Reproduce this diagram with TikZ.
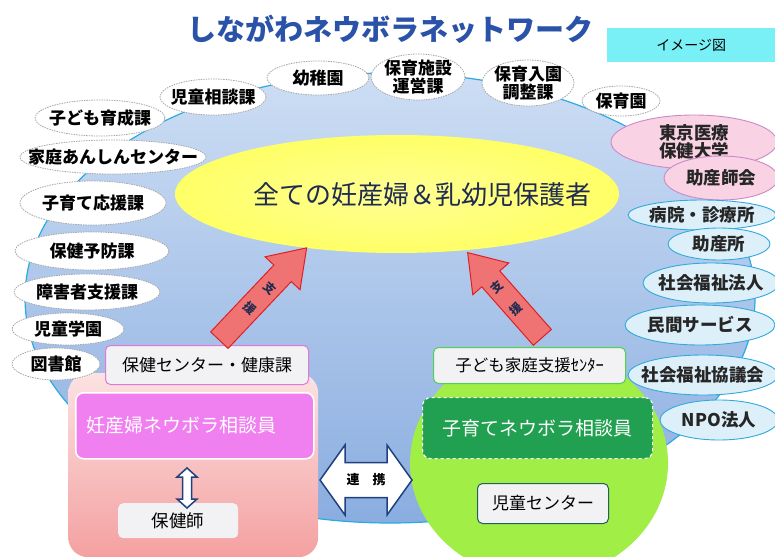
\documentclass[tikz,border=0pt]{standalone}
\usepackage{fontspec}
\setmainfont{Noto Sans CJK JP}
\usetikzlibrary{shapes.geometric}
\definecolor{bigfillA}{RGB}{205,222,244}
\definecolor{bigfillB}{RGB}{138,173,224}
\definecolor{bigline}{RGB}{41,171,226}
\definecolor{titleblue}{RGB}{42,82,168}
\definecolor{cyanbox}{RGB}{120,240,245}
\definecolor{yel}{RGB}{255,255,102}
\definecolor{navy}{RGB}{31,44,80}
\definecolor{rfill}{RGB}{221,240,250}
\definecolor{rline}{RGB}{49,169,221}
\definecolor{pfill}{RGB}{249,211,227}
\definecolor{pline}{RGB}{204,136,200}
\definecolor{pinkA}{RGB}{252,226,226}
\definecolor{pinkB}{RGB}{244,160,160}
\definecolor{magbox}{RGB}{240,128,240}
\definecolor{magline}{RGB}{225,120,215}
\definecolor{lgray}{RGB}{242,242,244}
\definecolor{lgreen}{RGB}{160,238,70}
\definecolor{dgreen}{RGB}{32,160,80}
\definecolor{gline}{RGB}{80,208,80}
\definecolor{teal}{RGB}{32,96,96}
\definecolor{redfill}{RGB}{240,115,115}
\definecolor{redline}{RGB}{224,32,32}
\definecolor{arrline}{RGB}{32,64,128}
\tikzset{
  wov/.style={ellipse, fill=white, draw=gray!70, dash pattern=on 1.5pt off 1pt, line width=0.8pt, inner sep=0pt},
  rov/.style={ellipse, fill=rfill, draw=rline, line width=0.9pt, inner sep=0pt},
  pov/.style={ellipse, fill=pfill, draw=pline, line width=0.9pt, inner sep=0pt},
  lbl/.style={font=\fontsize{17}{18}\selectfont\bfseries, text=black, align=center, inner sep=0pt},
  rlbl/.style={font=\fontsize{17.5}{18}\selectfont\bfseries, text=black!85, align=center, inner sep=0pt},
  graybox/.style={rectangle, rounded corners=5pt, fill=lgray, inner sep=0pt},
  redarrow/.style={fill=redfill, draw=redline, line width=1pt, line join=miter},
  whitearrow/.style={fill=white, draw=arrline, line width=1.5pt, line join=miter},
  arrtxt/.style={font=\fontsize{12}{12}\selectfont\bfseries, text=navy, inner sep=0pt},
}
\newcommand\ovl[7]{%
  \node[#1, minimum width=#5pt, minimum height=#6pt] (#2) at (#3,#4) {};
  \node[lbl] (#2-t) at (#2.center) {#7};}
\newcommand\rovl[7]{%
  \node[#1, minimum width=#5pt, minimum height=#6pt] (#2) at (#3,#4) {};
  \node[rlbl] (#2-t) at (#2.center) {#7};}
\begin{document}
\begin{tikzpicture}[x=1pt,y=-1pt]
\clip (0,0) rectangle (775,556);
\fill[white] (0,0) rectangle (775,556);
% big blue ellipse
\shade[top color=bigfillA, bottom color=bigfillB, draw=bigline, line width=1.2pt] (390,298) ellipse [x radius=365pt, y radius=225pt];
% title
\node[font=\fontsize{29}{30}\selectfont\bfseries, text=titleblue, inner sep=0pt] (title) at (390,29) {しながわネウボラネットワーク};
% image label
\node[rectangle, fill=cyanbox, minimum width=168pt, minimum height=34pt, anchor=north west, inner sep=0pt] (img) at (607,28) {};
\node[font=\fontsize{14}{15}\selectfont, inner sep=0pt] (img-t) at (img.center) {イメージ図};
% yellow ellipse
\shade[inner color=yel!70!white, outer color=yel] (397,194) ellipse [x radius=222pt, y radius=59pt];
\node[font=\fontsize{26}{27}\selectfont, text=navy, inner sep=0pt] (target) at (422,195) {全ての妊産婦＆乳幼児保護者};
% green circle
\fill[lgreen] (539,463) ellipse [x radius=129pt, y radius=116pt];
% pink box
\node[rectangle, rounded corners=20pt, top color=pinkA, bottom color=pinkB, minimum width=250pt, minimum height=184pt, anchor=north west, inner sep=0pt] (pinkbox) at (68,373) {};
% top ovals
\ovl{wov}{jidosodan}{213}{97}{106}{36}{児童相談課}
\ovl{wov}{yochien}{318}{78}{102}{34}{幼稚園}
\ovl{wov}{hoikushisetsu}{418}{77}{94}{46}{保育施設\\運営課}
\ovl{wov}{hoikunyuen}{528}{83}{92}{46}{保育入園\\調整課}
\ovl{wov}{hoikuen}{621}{101}{78}{30}{保育園}
% left ovals
\ovl{wov}{kodomoikusei}{100}{118}{130}{36}{子ども育成課}
\ovl{wov}{katei}{113}{157}{186}{34}{家庭あんしんセンター}
\ovl{wov}{kosodate}{93}{203}{146}{44}{子育て応援課}
\ovl{wov}{hokenyobo}{92}{251}{154}{38}{保健予防課}
\ovl{wov}{shogai}{87}{292}{146}{36}{障害者支援課}
\ovl{wov}{jidogakuen}{68}{329}{112}{32}{児童学園}
\ovl{wov}{toshokan}{56}{364}{88}{32}{図書館}
% right ovals
\rovl{pov}{tokyoiryo}{694}{142}{166}{54}{東京医療\\保健大学}
\rovl{pov}{josanshikai}{721}{178}{114}{44}{助産師会}
\rovl{rov}{byoin}{702}{215}{148}{30}{病院・診療所}
\rovl{rov}{josanjo}{719}{244}{102}{32}{助産所}
\rovl{rov}{shakaifukushi}{711}{283}{136}{40}{社会福祉法人}
\rovl{rov}{minkan}{700}{325}{150}{40}{民間サービス}
\rovl{rov}{kyogikai}{703}{375}{150}{40}{社会福祉協議会}
\rovl{rov}{npo}{719}{420}{118}{40}{NPO法人}
% left column boxes
\node[graybox, draw=magline, line width=1pt, minimum width=203pt, minimum height=39pt, anchor=north west] (hokencenter) at (105,345) {};
\node[font=\fontsize{17}{18}\selectfont, inner sep=0pt] (hokencenter-t) at (hokencenter.center) {保健センター・健康課};
\node[rectangle, rounded corners=8pt, fill=magbox, draw=white, line width=1.5pt, minimum width=238pt, minimum height=66pt, anchor=north west, inner sep=0pt] (ninsanpu) at (75,392) {};
\node[font=\fontsize{19}{20}\selectfont, text=white, inner sep=0pt, anchor=west] (ninsanpu-t) at ([xshift=11pt]ninsanpu.west) {妊産婦ネウボラ相談員};
\node[graybox, minimum width=120pt, minimum height=35pt, anchor=north west] (hokenshi) at (118,503) {};
\node[font=\fontsize{17.5}{18}\selectfont, inner sep=0pt] (hokenshi-t) at (hokenshi.center) {保健師};
\coordinate (vlink) at (187,488);
\draw[whitearrow] ([shift={(0,-20)}]vlink) -- ([shift={(10,-11)}]vlink) -- ([shift={(4.5,-11)}]vlink) -- ([shift={(4.5,11)}]vlink) -- ([shift={(10,11)}]vlink) -- ([shift={(0,20)}]vlink) -- ([shift={(-10,11)}]vlink) -- ([shift={(-4.5,11)}]vlink) -- ([shift={(-4.5,-11)}]vlink) -- ([shift={(-10,-11)}]vlink) -- cycle;
% right column boxes
\node[graybox, draw=gline, line width=1pt, minimum width=192pt, minimum height=36pt, anchor=north west] (kodomokatei) at (433,347) {};
\node[font=\fontsize{16.5}{17}\selectfont, inner sep=0pt] (kodomokatei-t) at (kodomokatei.center) {子ども家庭支援ｾﾝﾀｰ};
\node[rectangle, rounded corners=8pt, fill=dgreen, draw=white, dashed, line width=1.2pt, minimum width=230pt, minimum height=61pt, anchor=north west, inner sep=0pt] (kosodatenew) at (422,397) {};
\node[font=\fontsize{19}{20}\selectfont, text=white, inner sep=0pt] (kosodatenew-t) at (kosodatenew.center) {子育てネウボラ相談員};
\node[graybox, draw=teal, line width=1pt, minimum width=131pt, minimum height=40pt, anchor=north west] (jidocenter) at (477,483) {};
\node[font=\fontsize{17}{18}\selectfont, inner sep=0pt] (jidocenter-t) at (jidocenter.center) {児童センター};
% link arrow
\coordinate (renkei) at (366,480);
\draw[whitearrow] ([shift={(-46,0)}]renkei) -- ([shift={(-21,-35)}]renkei) -- ([shift={(-21,-17.5)}]renkei) -- ([shift={(21,-17.5)}]renkei) -- ([shift={(21,-35)}]renkei) -- ([shift={(46,0)}]renkei) -- ([shift={(21,35)}]renkei) -- ([shift={(21,17.5)}]renkei) -- ([shift={(-21,17.5)}]renkei) -- ([shift={(-21,35)}]renkei) -- cycle;
\node[font=\fontsize{13}{14}\selectfont\bfseries, inner sep=0pt] (renkei-t) at (renkei) {連\hspace{1em}携};
% red support arrows
\begin{scope}[shift={(263,294)}, rotate=46.6]
\draw[redarrow] (-63.5,-12) -- (28.5,-12) -- (28.5,-24) -- (63.5,0) -- (28.5,24) -- (28.5,12) -- (-63.5,12) -- cycle;
\end{scope}
\node[arrtxt, rotate=-43.4] (shienL1) at (270,288) {支};
\node[arrtxt, rotate=-43.4] (shienL2) at (250,308) {援};
\begin{scope}[shift={(505,295)}, rotate=131.4]
\draw[redarrow] (-56.5,-12) -- (21.5,-12) -- (21.5,-24) -- (56.5,0) -- (21.5,24) -- (21.5,12) -- (-56.5,12) -- cycle;
\end{scope}
\node[arrtxt, rotate=41.4] (shienR1) at (497,287) {支};
\node[arrtxt, rotate=41.4] (shienR2) at (516,309) {援};
\end{tikzpicture}
\end{document}
